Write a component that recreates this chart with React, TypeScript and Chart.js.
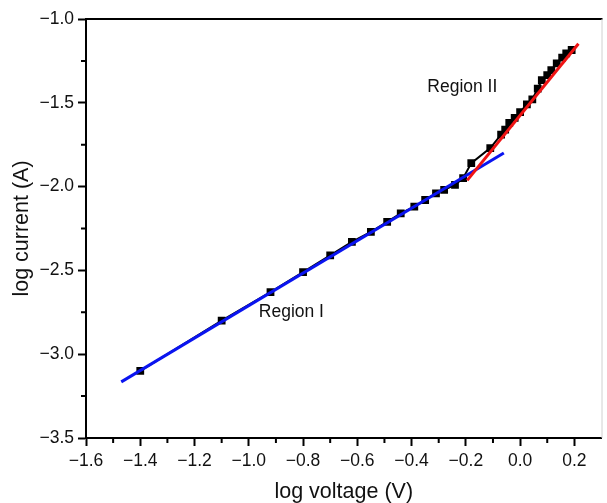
import React, { useEffect, useRef } from 'react';
import { Chart, registerables } from 'chart.js';

Chart.register(...registerables);

// measured data (log V, log I)
const logVoltage = [
  -1.40, -1.10, -0.92, -0.80, -0.70, -0.62, -0.55, -0.49, -0.44, -0.39, -0.35, -0.31, -0.28, -0.24, -0.21, -0.18,
  -0.11, -0.07, -0.055, -0.04, -0.02, 0.00, 0.025, 0.045, 0.065, 0.08, 0.10, 0.115, 0.135, 0.155, 0.17, 0.19,
];
const logCurrent = [
  -3.10, -2.80, -2.63, -2.51, -2.41, -2.33, -2.27, -2.21, -2.16, -2.12, -2.08, -2.04, -2.02, -1.99, -1.95, -1.86,
  -1.77, -1.69, -1.66, -1.62, -1.59, -1.555, -1.51, -1.48, -1.415, -1.365, -1.335, -1.305, -1.265, -1.23, -1.205, -1.185,
];

// linear fits
const fitIX = [-1.47, -0.06];
const fitIY = [-3.165, -1.80];
const fitIIX = [-0.195, 0.215];
const fitIIY = [-1.963, -1.148];

// region labels (data coordinates)
const regionNames = ['Region I', 'Region II'];
const regionX = [-0.843, -0.213];
const regionY = [-2.752, -1.407];

// axis ranges / ticks
const xMin = -1.6;
const xMax = 0.3;
const xStep = 0.2;
const xMinor = [-1.5, -1.3, -1.1, -0.9, -0.7, -0.5, -0.3, -0.1, 0.1];
const yMin = -3.5;
const yMax = -1.0;
const yStep = 0.5;
const yMinor = [-1.25, -1.75, -2.25, -2.75, -3.25];

const FONT = '"Liberation Sans", Arial, Helvetica, sans-serif';
const TEXT = '#111';

const fmt = (v: number) => {
  const n = Math.abs(v) < 1e-9 ? 0 : v;
  return n.toFixed(1).replace('-', '\u2212');
};

const toPts = (xs: number[], ys: number[]) => xs.map((x, i) => ({ x, y: ys[i] }));

const decor = {
  id: 'decor',
  afterDatasetsDraw(chart: any) {
    const { ctx, scales } = chart;
    ctx.save();
    ctx.fillStyle = TEXT;
    ctx.font = `17.5px ${FONT}`;
    ctx.textAlign = 'center';
    ctx.textBaseline = 'middle';
    regionNames.forEach((t, i) => {
      ctx.fillText(t, scales.x.getPixelForValue(regionX[i]), scales.y.getPixelForValue(regionY[i]));
    });
    ctx.restore();
  },
  afterDraw(chart: any) {
    const { ctx, chartArea, scales } = chart;
    ctx.save();
    ctx.strokeStyle = '#000';
    ctx.lineWidth = 2;
    ctx.beginPath();
    ctx.moveTo(chartArea.left - 1, chartArea.top);
    ctx.lineTo(chartArea.right + 1, chartArea.top);
    ctx.stroke();
    ctx.strokeStyle = '#d0d0d0';
    ctx.lineWidth = 1;
    ctx.beginPath();
    ctx.moveTo(chartArea.right + 0.5, chartArea.top);
    ctx.lineTo(chartArea.right + 0.5, chartArea.bottom);
    ctx.stroke();
    ctx.strokeStyle = '#000';
    ctx.lineWidth = 2;
    ctx.beginPath();
    xMinor.forEach((v) => {
      const px = scales.x.getPixelForValue(v);
      ctx.moveTo(px, chartArea.bottom);
      ctx.lineTo(px, chartArea.bottom + 5);
    });
    yMinor.forEach((v) => {
      const py = scales.y.getPixelForValue(v);
      ctx.moveTo(chartArea.left, py);
      ctx.lineTo(chartArea.left - 5, py);
    });
    ctx.stroke();
    ctx.restore();
  },
};

export default function App() {
  const ref = useRef<HTMLCanvasElement>(null);
  useEffect(() => {
    document.body.style.margin = '0';
    const canvas = ref.current;
    if (!canvas) return;
    const chart = new Chart(canvas, {
      type: 'scatter',
      data: {
        datasets: [
          {
            data: toPts(logVoltage, logCurrent),
            showLine: true,
            borderColor: '#000',
            backgroundColor: '#000',
            borderWidth: 2,
            pointStyle: 'rect',
            pointRadius: 5.5,
            pointBorderWidth: 0,
            order: 3,
          },
          {
            data: toPts(fitIX, fitIY),
            showLine: true,
            borderColor: '#0a14f0',
            borderWidth: 3,
            pointRadius: 0,
            order: 2,
          },
          {
            data: toPts(fitIIX, fitIIY),
            showLine: true,
            borderColor: '#f01414',
            borderWidth: 3,
            pointRadius: 0,
            order: 1,
          },
        ],
      },
      options: {
        responsive: false,
        animation: false,
        layout: { padding: { top: 19, right: 1, left: 0, bottom: 0 } },
        plugins: { legend: { display: false }, tooltip: { enabled: false } },
        scales: {
          x: {
            type: 'linear',
            min: xMin,
            max: xMax,
            afterFit: (s: any) => { s.height = 65; },
            border: { display: true, color: '#000', width: 2 },
            grid: { display: true, drawOnChartArea: false, drawTicks: true, tickLength: 8, tickWidth: 2, tickColor: '#000' },
            ticks: {
              stepSize: xStep,
              includeBounds: false,
              color: TEXT,
              font: { family: FONT, size: 17.5 },
              padding: 5,
              maxRotation: 0,
              callback: (v: any) => fmt(Number(v)),
            },
            title: { display: true, text: 'log voltage (V)', color: TEXT, font: { family: FONT, size: 21.5 }, padding: { top: 0, bottom: -2 } },
          },
          y: {
            type: 'linear',
            min: yMin,
            max: yMax,
            afterFit: (s: any) => { s.width = 86; },
            border: { display: true, color: '#000', width: 2 },
            grid: { display: true, drawOnChartArea: false, drawTicks: true, tickLength: 8, tickWidth: 2, tickColor: '#000' },
            ticks: {
              stepSize: yStep,
              color: TEXT,
              font: { family: FONT, size: 17.5 },
              padding: 4,
              callback: (v: any) => fmt(Number(v)),
            },
            title: { display: true, text: 'log current (A)', color: TEXT, font: { family: FONT, size: 21.5 }, padding: { top: 9, bottom: 0 } },
          },
        },
      },
      plugins: [decor],
    } as any);
    return () => chart.destroy();
  }, []);
  return (
    <div style={{ position: 'fixed', left: 0, top: 0, width: 607, height: 503, background: '#fff' }}>
      <canvas ref={ref} width={607} height={503} style={{ display: 'block' }} />
    </div>
  );
}
